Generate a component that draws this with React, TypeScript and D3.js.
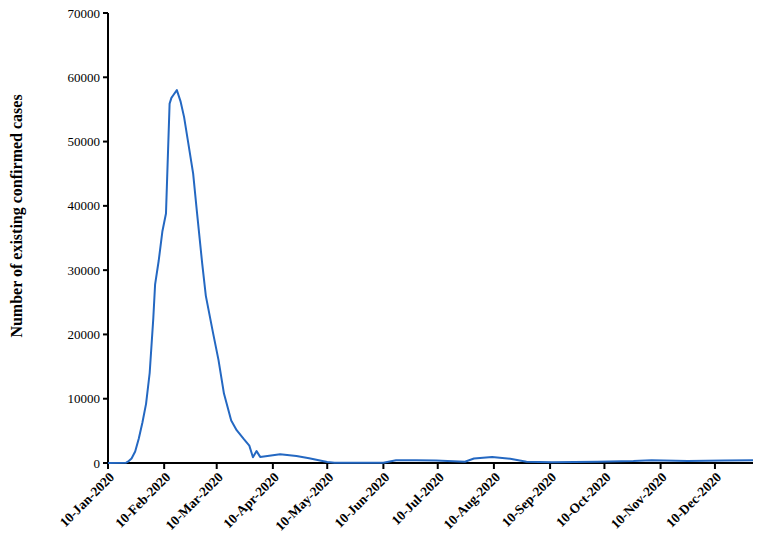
import React from "react";
import * as d3 from "d3";

const dates: string[] = [
  "2020-01-10", "2020-01-20", "2020-01-21", "2020-01-23", "2020-01-25", "2020-01-27", "2020-01-29",
  "2020-01-31", "2020-02-02", "2020-02-04", "2020-02-05", "2020-02-07", "2020-02-09", "2020-02-11",
  "2020-02-13", "2020-02-14", "2020-02-15", "2020-02-17", "2020-02-19", "2020-02-21", "2020-02-23",
  "2020-02-26", "2020-02-28", "2020-03-02", "2020-03-04", "2020-03-08", "2020-03-11", "2020-03-14",
  "2020-03-18", "2020-03-21", "2020-03-25", "2020-03-28", "2020-03-30", "2020-04-01", "2020-04-03",
  "2020-04-14", "2020-04-23", "2020-04-30", "2020-05-10", "2020-05-14", "2020-06-10", "2020-06-17",
  "2020-06-28", "2020-07-09", "2020-07-25", "2020-07-30", "2020-08-09", "2020-08-19", "2020-08-28",
  "2020-09-11", "2020-10-06", "2020-10-26", "2020-11-05", "2020-11-25", "2020-12-15", "2020-12-31",
];

const cases: number[] = [
  0, 50, 200, 700, 1800, 3800, 6300,
  9200, 14000, 22500, 27800, 31500, 36000, 38800,
  55900, 56800, 57200, 58000, 56300, 53800, 50300,
  45000, 39300, 31000, 26000, 20200, 16000, 10800,
  6600, 5100, 3700, 2700, 900, 1850, 950,
  1350, 1100, 750, 150, 50, 50, 420,
  430, 380, 200, 700, 950, 650, 200,
  130, 200, 300, 420, 300, 380, 420,
];

const yTicks: number[] = [0, 10000, 20000, 30000, 40000, 50000, 60000, 70000];
const xTickDates: string[] = [
  "2020-01-10", "2020-02-10", "2020-03-10", "2020-04-10", "2020-05-10", "2020-06-10",
  "2020-07-10", "2020-08-10", "2020-09-10", "2020-10-10", "2020-11-10", "2020-12-10",
];
const yTitle = "Number of existing confirmed cases";

const W = 765;
const H = 542;
const left = 108;
const right = 753;
const top = 13;
const bottom = 463;

const parse = d3.timeParse("%Y-%m-%d");
const fmt = d3.timeFormat("%d-%b-%Y");

export default function App() {
  const x = d3
    .scaleTime()
    .domain([parse("2020-01-10")!, parse("2020-12-31")!])
    .range([left, right]);
  const y = d3.scaleLinear().domain([0, 70000]).range([bottom, top]);

  const data = dates.map((d, i) => ({ date: parse(d)!, v: cases[i] }));
  const line = d3
    .line<{ date: Date; v: number }>()
    .x((d) => x(d.date))
    .y((d) => y(d.v))
    .curve(d3.curveLinear);

  const font = "'Liberation Serif', 'Times New Roman', serif";

  return (
    <svg
      width={W}
      height={H}
      style={{ position: "absolute", left: 0, top: 0, background: "#fff" }}
      fontFamily={font}
    >
      <rect width={W} height={H} fill="#fff" />
      <text
        transform={`translate(22,216) rotate(-90)`}
        textAnchor="middle"
        fontWeight="bold"
        fontSize={16}
        fill="#000"
      >
        {yTitle}
      </text>
      <line x1={left} x2={left} y1={top} y2={bottom} stroke="#000" strokeWidth={2} />
      {yTicks.map((t) => (
        <g key={t} transform={`translate(0,${y(t)})`}>
          <line x1={left - 5} x2={left} stroke="#000" strokeWidth={2} />
          <text x={left - 8} dy="0.35em" textAnchor="end" fontSize={13} fill="#000">
            {t}
          </text>
        </g>
      ))}
      <line x1={left} x2={right} y1={bottom} y2={bottom} stroke="#000" strokeWidth={2} />
      {xTickDates.map((d) => {
        const xx = x(parse(d)!);
        return (
          <g key={d} transform={`translate(${xx},${bottom})`}>
            <line y1={0} y2={6} stroke="#000" strokeWidth={2} />
            <text
              transform="translate(7,15) rotate(-45)"
              textAnchor="end"
              fontSize={13.5}
              fontWeight="bold"
              fill="#000"
            >
              {fmt(parse(d)!)}
            </text>
          </g>
        );
      })}
      <path d={line(data) || ""} fill="none" stroke="#2468c2" strokeWidth={2} strokeLinejoin="round" />
    </svg>
  );
}
